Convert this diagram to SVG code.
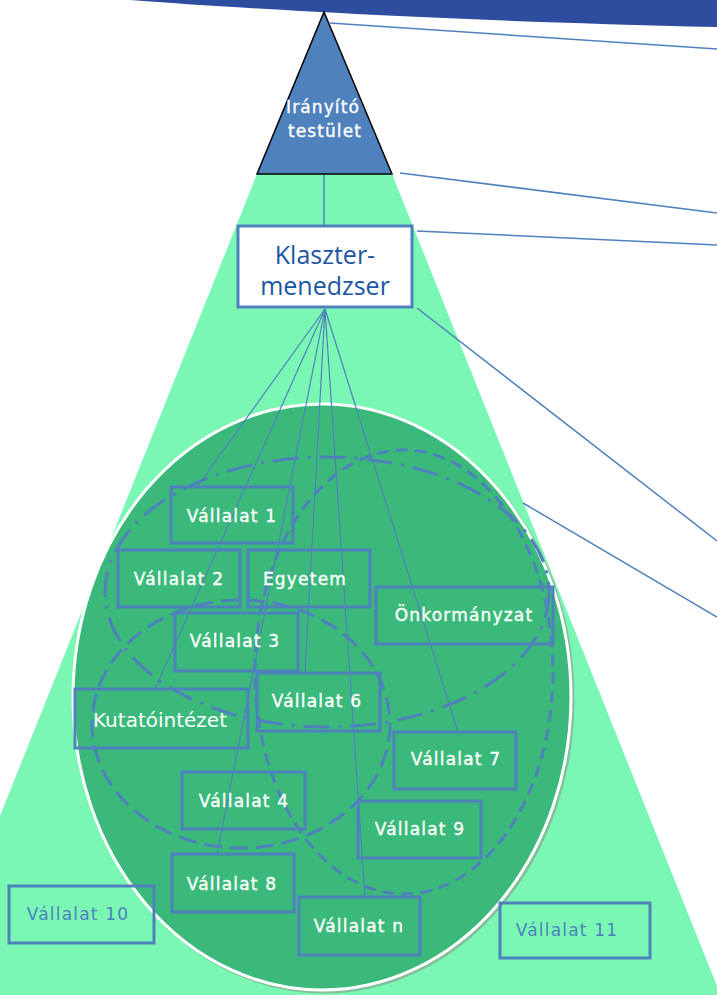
<svg xmlns="http://www.w3.org/2000/svg" width="717" height="995" viewBox="0 0 717 995">
<style>
.ln{stroke:#4F81BD;stroke-width:1.5;fill:none}
.fan{stroke:#4F81BD;stroke-width:1.2;fill:none}
.box{fill:none;stroke:#4F81BD;stroke-width:3}
.lbl{font-family:"DejaVu Sans",Verdana,sans-serif;font-size:17px;letter-spacing:1.2px;fill:#FFFFFF;text-anchor:middle;stroke:#FFFFFF;stroke-width:0.35}
.lblb{font-family:"DejaVu Sans",Verdana,sans-serif;font-size:17px;letter-spacing:1.2px;fill:#4F81BD;text-anchor:middle}
.grp{fill:none;stroke:#4F81BD;stroke-width:3}
</style>
<rect x="0" y="0" width="717" height="995" fill="#FFFFFF"/>
<path id="band" d="M130,0 C250,9 450,21 717,27 L717,0 Z" fill="#2E4D9E"/>
<polygon id="cone" points="257,174 392,174 717,986 717,995 0,995 0,816" fill="#7AF7B2"/>
<g id="connectors">
<line class="ln" x1="330" y1="23" x2="717" y2="49"/>
<line class="ln" x1="400" y1="173" x2="717" y2="213"/>
<line class="ln" x1="417" y1="231" x2="717" y2="245"/>
<line class="ln" x1="417" y1="308" x2="717" y2="541"/>
<line class="ln" x1="523" y1="503" x2="717" y2="617"/>
<line class="ln" x1="324" y1="174" x2="324" y2="226"/>
</g>
<g id="node-iranyito">
<polygon points="324,12 392,174 257,174" fill="#4F81BD" stroke="#000000" stroke-width="1.5" stroke-linejoin="miter"/>
<text x="323" y="113" font-family="DejaVu Sans,Verdana,sans-serif" font-size="17" letter-spacing="1.1" fill="#FFFFFF" stroke="#FFFFFF" stroke-width="0.35" text-anchor="middle">Irányító</text>
<text x="325" y="137" font-family="DejaVu Sans,Verdana,sans-serif" font-size="17" letter-spacing="1.1" fill="#FFFFFF" stroke="#FFFFFF" stroke-width="0.35" text-anchor="middle">testület</text>
</g>
<g id="node-klaszter">
<rect x="238" y="226" width="174" height="81" fill="#FFFFFF" stroke="#4F81BD" stroke-width="3"/>
<text x="325" y="264" font-family="Open Sans,Noto Sans,sans-serif" font-size="25" fill="#1A56A4" text-anchor="middle">Klaszter-</text>
<text x="325" y="295" font-family="Open Sans,Noto Sans,sans-serif" font-size="25" fill="#1A56A4" text-anchor="middle">menedzser</text>
</g>
<g id="cluster">
<ellipse cx="324" cy="699" rx="249" ry="293" fill="none" stroke="#8A9A90" stroke-width="3" opacity="0.6"/>
<ellipse cx="322" cy="697" rx="249" ry="293" fill="#3BB97A" stroke="#FFFFFF" stroke-width="3"/>
<ellipse cx="327" cy="592" rx="222" ry="135" class="grp" stroke-dasharray="26 9 3 9"/>
<ellipse cx="404" cy="672" rx="149" ry="222" class="grp" stroke-dasharray="12 7"/>
<ellipse cx="241" cy="724" rx="149" ry="124" class="grp" stroke-dasharray="18 8"/>
</g>
<g id="fan">
<line class="fan" x1="325" y1="309" x2="197" y2="487"/>
<line class="fan" x1="325" y1="309" x2="155" y2="689"/>
<line class="fan" x1="325" y1="309" x2="217" y2="854"/>
<line class="fan" x1="325" y1="309" x2="305" y2="673"/>
<line class="fan" x1="325" y1="309" x2="365" y2="897"/>
<line class="fan" x1="325" y1="309" x2="458" y2="732"/>
</g>
<g id="node-v1"><rect class="box" x="171" y="487" width="122" height="56"/><text class="lbl" x="232" y="522">Vállalat 1</text></g>
<g id="node-v2"><rect class="box" x="118" y="550" width="122" height="57"/><text class="lbl" x="179" y="585">Vállalat 2</text></g>
<g id="node-egyetem"><rect class="box" x="248" y="550" width="122" height="57"/><text class="lbl" x="305" y="585">Egyetem</text></g>
<g id="node-onk"><rect class="box" x="376" y="587" width="177" height="57"/><text class="lbl" x="464" y="621">Önkormányzat</text></g>
<g id="node-v3"><rect class="box" x="175" y="613" width="123" height="58"/><text class="lbl" x="235" y="647">Vállalat 3</text></g>
<g id="node-v6"><rect class="box" x="257" y="673" width="123" height="58"/><text class="lbl" x="317" y="707">Vállalat 6</text></g>
<g id="node-kutato"><rect class="box" x="75" y="689" width="173" height="59"/><text x="160" y="727" font-family="DejaVu Sans,Verdana,sans-serif" font-size="20" fill="#FFFFFF" text-anchor="middle">Kutatóintézet</text></g>
<g id="node-v7"><rect class="box" x="394" y="732" width="122" height="57"/><text class="lbl" x="456" y="765">Vállalat 7</text></g>
<g id="node-v4"><rect class="box" x="182" y="772" width="123" height="57"/><text class="lbl" x="244" y="807">Vállalat 4</text></g>
<g id="node-v9"><rect class="box" x="358" y="801" width="123" height="57"/><text class="lbl" x="420" y="835">Vállalat 9</text></g>
<g id="node-v8"><rect class="box" x="172" y="854" width="122" height="58"/><text class="lbl" x="232" y="890">Vállalat 8</text></g>
<g id="node-vn"><rect class="box" x="299" y="897" width="121" height="58"/><text class="lbl" x="359" y="932">Vállalat n</text></g>
<g id="node-v10"><rect class="box" x="9" y="886" width="145" height="57"/><text class="lblb" x="78" y="920">Vállalat 10</text></g>
<g id="node-v11"><rect class="box" x="500" y="903" width="150" height="55"/><text class="lblb" x="567" y="936">Vállalat 11</text></g>
</svg>
